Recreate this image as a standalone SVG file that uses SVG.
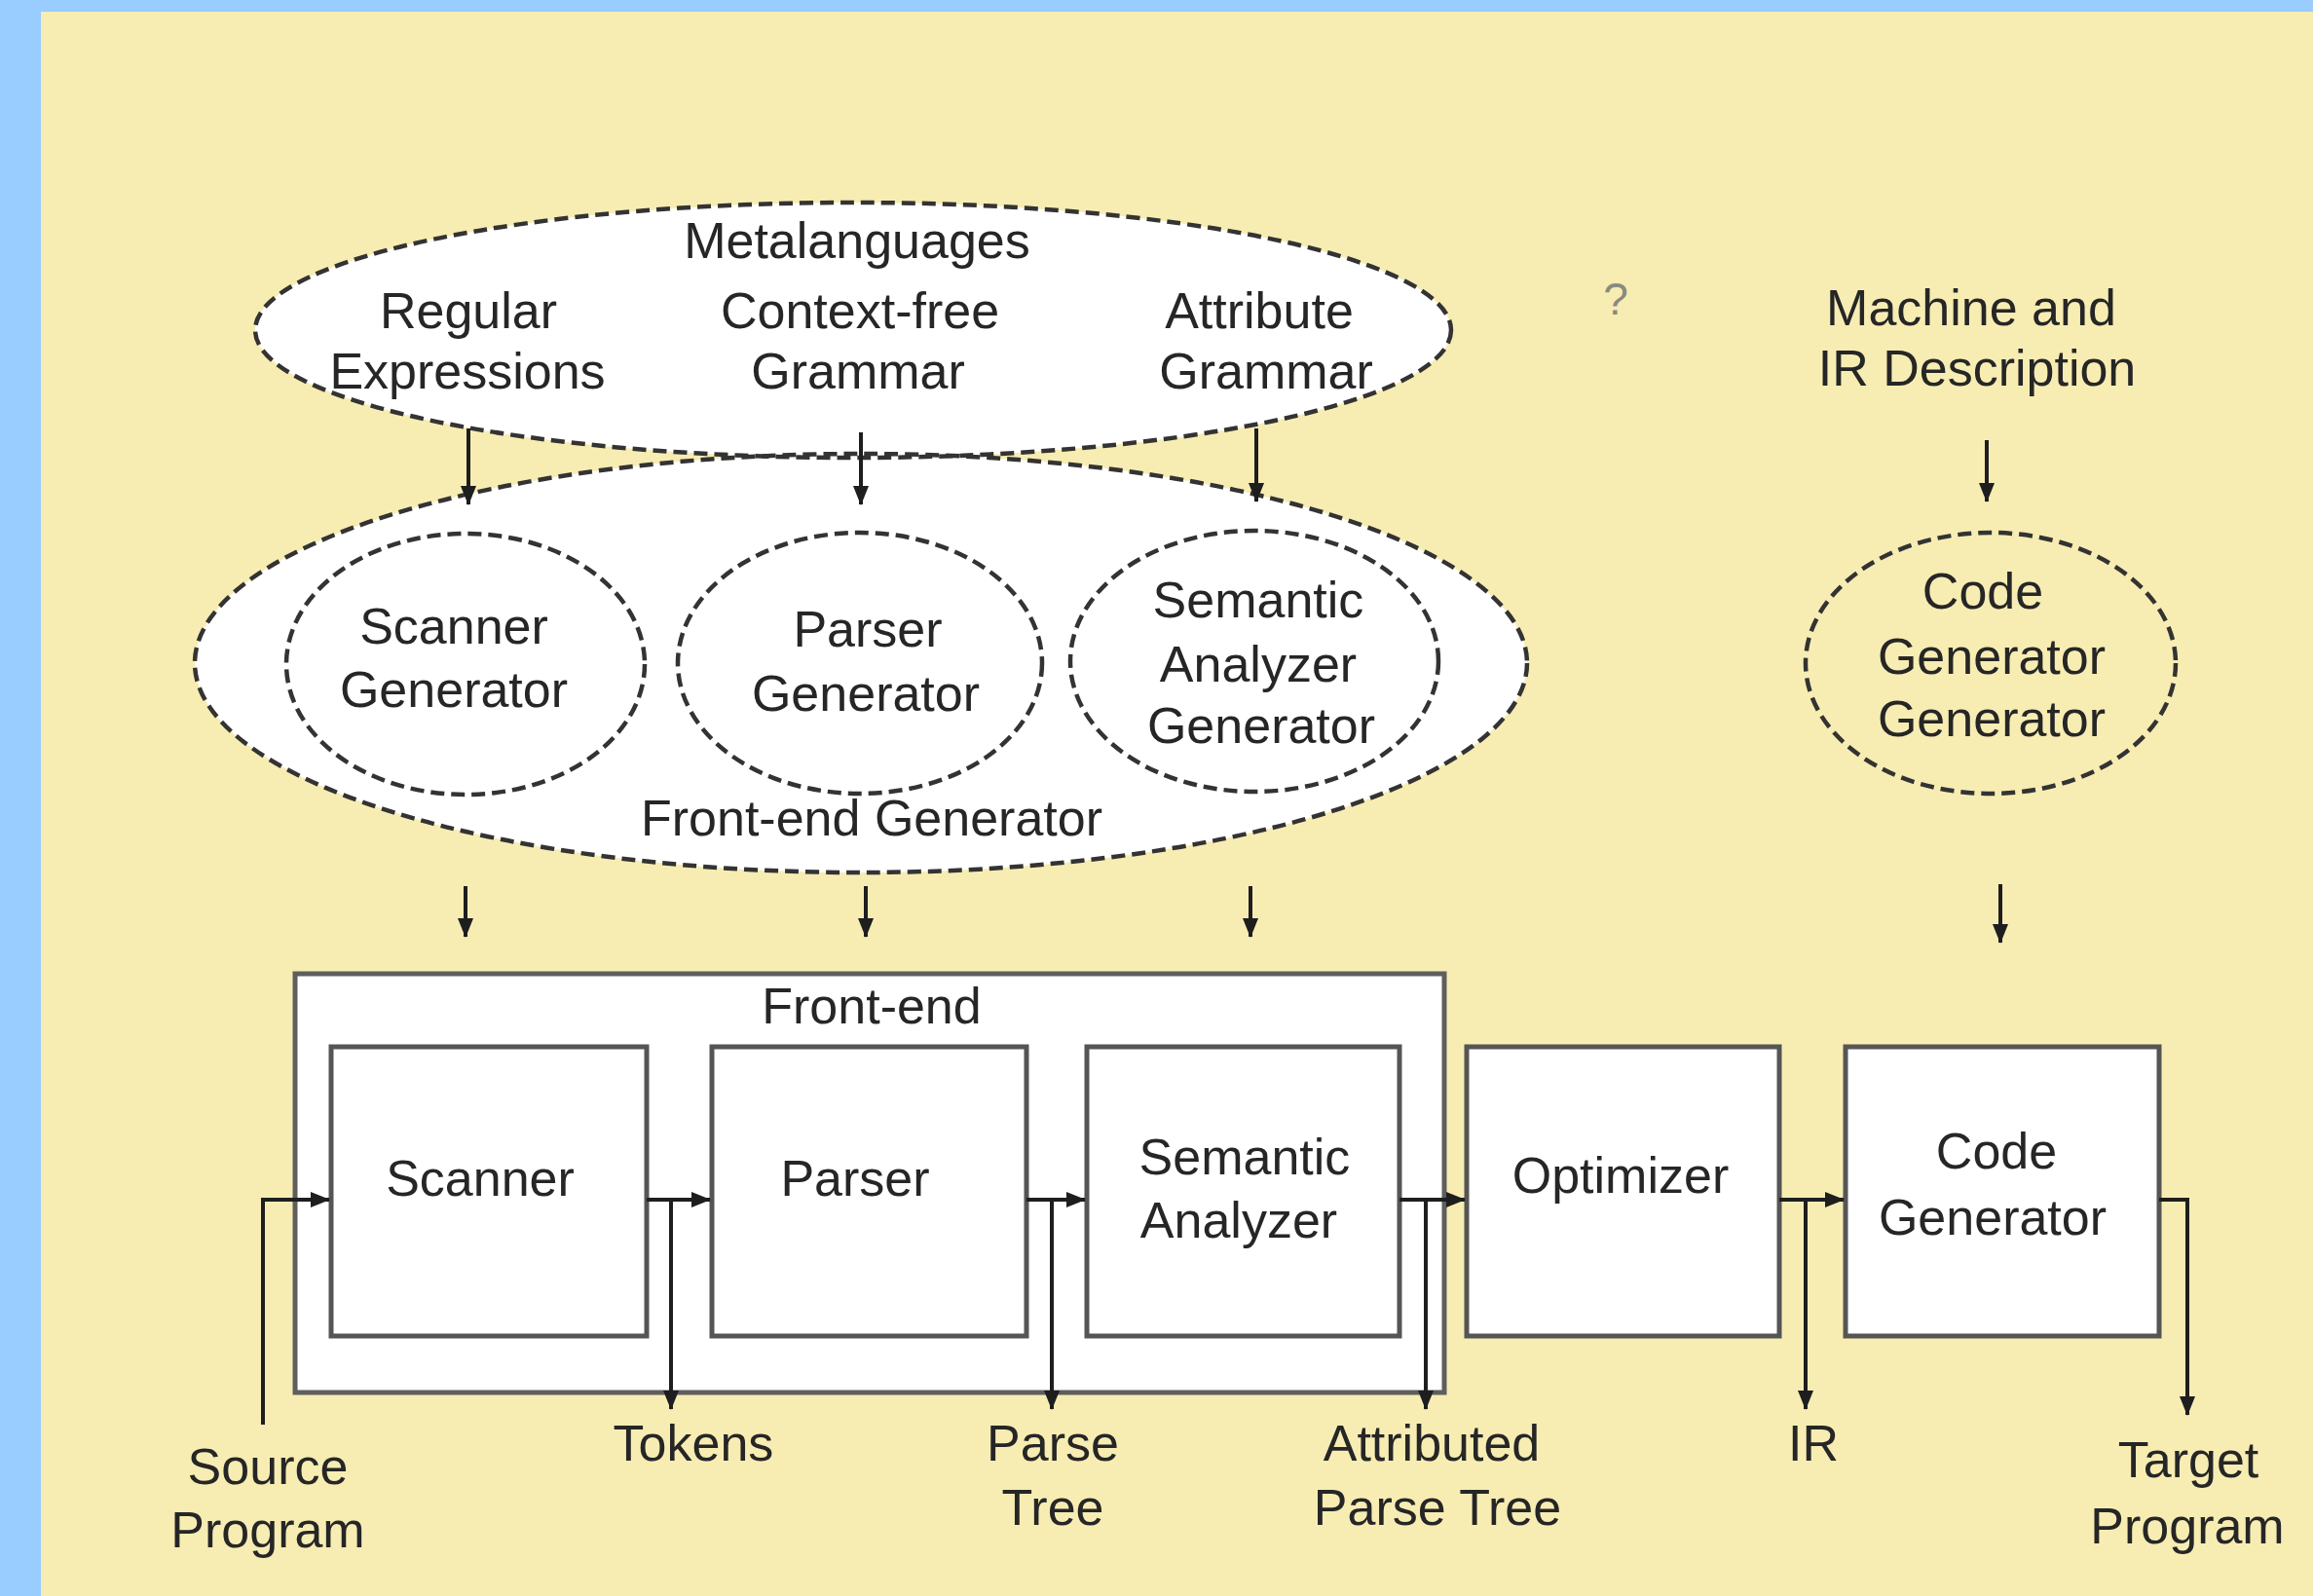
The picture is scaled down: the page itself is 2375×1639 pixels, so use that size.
<svg xmlns="http://www.w3.org/2000/svg" width="2375" height="1639" viewBox="0 0 2375 1639">
  <style>
    .t { font-family: "Liberation Sans", Arial, Helvetica, sans-serif; font-size: 52px; fill: #262626; text-anchor: middle; }
    .q { font-family: "Liberation Sans", Arial, sans-serif; font-size: 46px; fill: #8a8a80; text-anchor: middle; }
    .oval { fill: none; stroke: #333333; stroke-width: 4.5; stroke-dasharray: 14 7; }
    .ovalfill { fill: #ffffff; stroke: none; }
    .box { fill: #ffffff; stroke: #555555; stroke-width: 5; }
    .frame { fill: #ffffff; stroke: #5e5e5e; stroke-width: 5; }
    .arrow { fill: none; stroke: #1e1e1e; stroke-width: 4; marker-end: url(#head); }
  </style>
  <defs>
    <marker id="head" viewBox="0 0 20 16" refX="19" refY="8" markerWidth="20" markerHeight="16" markerUnits="userSpaceOnUse" orient="auto">
      <path d="M0,0 L20,8 L0,16 z" fill="#1e1e1e"/>
    </marker>
  </defs>

  <!-- page background -->
  <rect x="0" y="0" width="2375" height="1639" fill="#99ccff"/>
  <rect x="42" y="12" width="2333" height="1627" fill="#f7edb3"/>

  <!-- white interiors of the overlapping ovals, painted before any outline -->
  <g id="oval-fills">
    <ellipse class="ovalfill" cx="884" cy="681" rx="684" ry="215"/>
    <ellipse class="ovalfill" cx="876" cy="339" rx="614" ry="131"/>
  </g>

  <!-- generator tools -->
  <g id="metalanguages">
    <ellipse class="oval" cx="876" cy="339" rx="614" ry="131"/>
    <text class="t" x="880" y="265">Metalanguages</text>
    <text class="t" x="481" y="337">Regular</text>
    <text class="t" x="480" y="399">Expressions</text>
    <text class="t" x="883" y="337">Context-free</text>
    <text class="t" x="881" y="399">Grammar</text>
    <text class="t" x="1293" y="337">Attribute</text>
    <text class="t" x="1300" y="399">Grammar</text>
  </g>

  <g id="front-end-generator">
    <ellipse class="oval" cx="884" cy="681" rx="684" ry="215"/>
    <text class="t" x="895" y="858">Front-end Generator</text>
  </g>

  <g id="scanner-generator">
    <ellipse class="oval" cx="478" cy="682" rx="184" ry="134"/>
    <text class="t" x="466" y="661">Scanner</text>
    <text class="t" x="466" y="726">Generator</text>
  </g>

  <g id="parser-generator">
    <ellipse class="oval" cx="883" cy="681" rx="187" ry="134"/>
    <text class="t" x="891" y="664">Parser</text>
    <text class="t" x="889" y="730">Generator</text>
  </g>

  <g id="semantic-analyzer-generator">
    <ellipse class="oval" cx="1288" cy="679" rx="189" ry="134"/>
    <text class="t" x="1292" y="634">Semantic</text>
    <text class="t" x="1292" y="700">Analyzer</text>
    <text class="t" x="1295" y="763">Generator</text>
  </g>

  <g id="machine-description">
    <text class="t" x="2024" y="334">Machine and</text>
    <text class="t" x="2030" y="396">IR Description</text>
  </g>

  <g id="unknown-input">
    <text class="q" x="1659" y="323">?</text>
  </g>

  <g id="code-generator-generator">
    <ellipse class="oval" cx="2044" cy="681" rx="190" ry="134"/>
    <text class="t" x="2036" y="625">Code</text>
    <text class="t" x="2045" y="692">Generator</text>
    <text class="t" x="2045" y="756">Generator</text>
  </g>

  <!-- compiler pipeline -->
  <g id="front-end">
    <rect class="frame" x="303" y="1000" width="1180" height="430"/>
    <text class="t" x="895" y="1051">Front-end</text>
  </g>

  <g id="scanner">
    <rect class="box" x="340" y="1075" width="324" height="297"/>
    <text class="t" x="493" y="1228">Scanner</text>
  </g>

  <g id="parser">
    <rect class="box" x="731" y="1075" width="323" height="297"/>
    <text class="t" x="878" y="1228">Parser</text>
  </g>

  <g id="semantic-analyzer">
    <rect class="box" x="1116" y="1075" width="321" height="297"/>
    <text class="t" x="1278" y="1206">Semantic</text>
    <text class="t" x="1272" y="1271">Analyzer</text>
  </g>

  <g id="optimizer">
    <rect class="box" x="1506" y="1075" width="321" height="297"/>
    <text class="t" x="1664" y="1225">Optimizer</text>
  </g>

  <g id="code-generator">
    <rect class="box" x="1895" y="1075" width="322" height="297"/>
    <text class="t" x="2050" y="1200">Code</text>
    <text class="t" x="2046" y="1268">Generator</text>
  </g>

  <!-- data labels -->
  <g id="source-program">
    <text class="t" x="275" y="1524">Source</text>
    <text class="t" x="275" y="1589">Program</text>
  </g>
  <g id="tokens">
    <text class="t" x="712" y="1500">Tokens</text>
  </g>
  <g id="parse-tree">
    <text class="t" x="1081" y="1500">Parse</text>
    <text class="t" x="1081" y="1566">Tree</text>
  </g>
  <g id="attributed-parse-tree">
    <text class="t" x="1470" y="1500">Attributed</text>
    <text class="t" x="1476" y="1566">Parse Tree</text>
  </g>
  <g id="ir">
    <text class="t" x="1862" y="1500">IR</text>
  </g>
  <g id="target-program">
    <text class="t" x="2247" y="1517">Target</text>
    <text class="t" x="2246" y="1585">Program</text>
  </g>

  <!-- connectors -->
  <g id="connectors">
    <!-- metalanguages feed the generators -->
    <path class="arrow" d="M481 440 V518"/>
    <path class="arrow" d="M884 444 V518"/>
    <path class="arrow" d="M1290 440 V515"/>
    <path class="arrow" d="M2040 452 V515"/>
    <!-- generators produce the phases -->
    <path class="arrow" d="M478 910 V962"/>
    <path class="arrow" d="M889 910 V962"/>
    <path class="arrow" d="M1284 910 V962"/>
    <path class="arrow" d="M2054 908 V968"/>
    <!-- data flow through the phases -->
    <path class="arrow" d="M270 1463 V1232 H338"/>
    <path class="arrow" d="M664 1232 H729"/>
    <path class="arrow" d="M689 1232 V1447"/>
    <path class="arrow" d="M1054 1232 H1114"/>
    <path class="arrow" d="M1080 1232 V1447"/>
    <path class="arrow" d="M1437 1232 H1504"/>
    <path class="arrow" d="M1464 1232 V1447"/>
    <path class="arrow" d="M1827 1232 H1893"/>
    <path class="arrow" d="M1854 1232 V1447"/>
    <path class="arrow" d="M2217 1232 H2246 V1453"/>
  </g>
</svg>
